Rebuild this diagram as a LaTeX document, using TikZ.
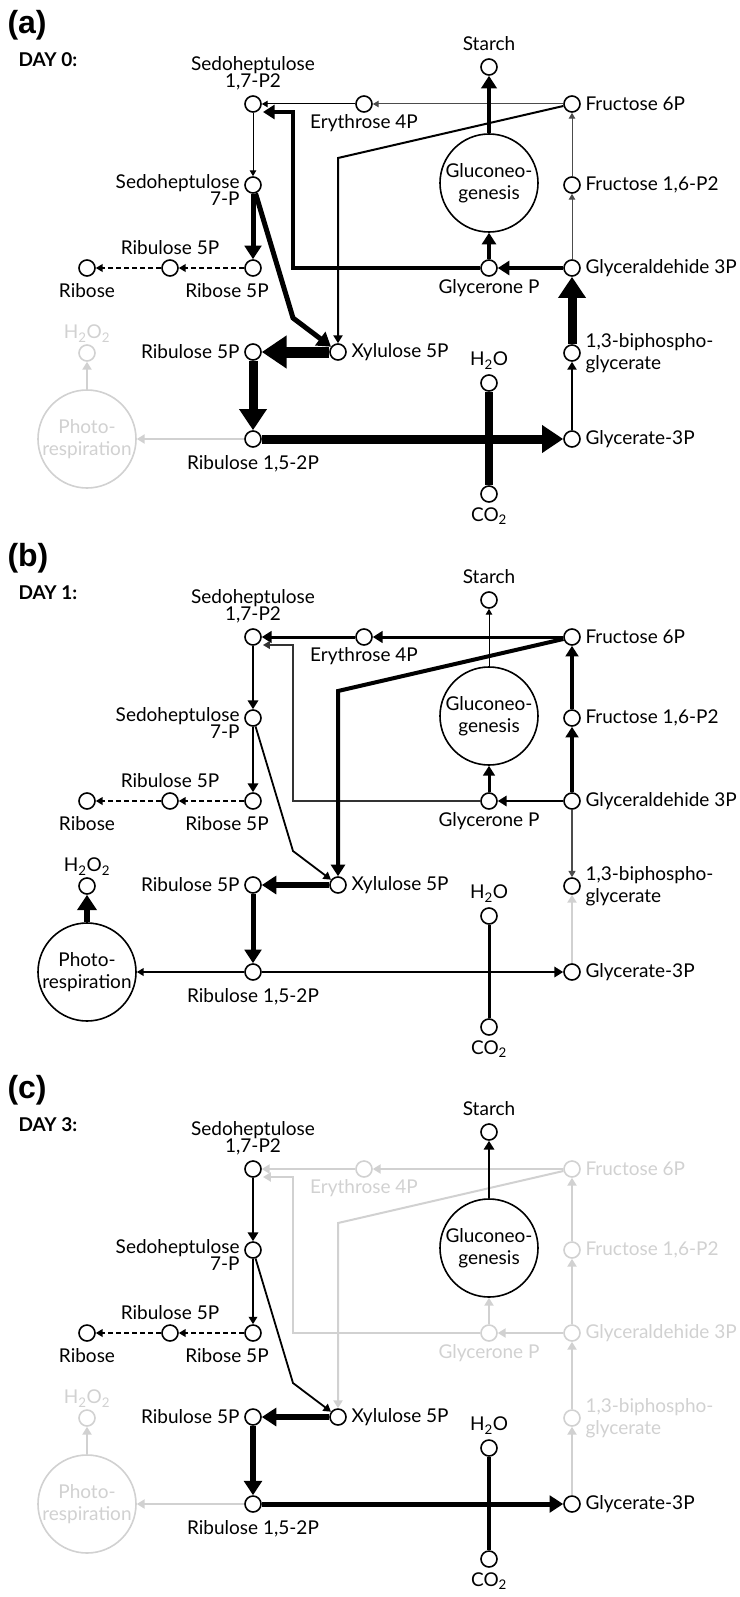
\documentclass[tikz,border=0pt]{standalone}
\usepackage{fontspec}
\setmainfont{Lato}
\newfontfamily\tagfont{Liberation Sans}
\usetikzlibrary{arrows.meta}

% one panel of the pathway: #1 panel letter, #2 day
\newcommand{\pathway}[2]{%
  % panel tags
  \node[tagtext] (tag) at (4,25) {(#1)};
  \node[daytext] (day) at (15,60) {DAY #2:};
  % metabolites
  \node[met, label={[lbl]above:{Sedoheptulose\\[-5pt]1,7-P2}}] (sbp) at (253,104) {};
  \node[met, label={[lbl, align=right, yshift=-5pt]left:{Sedoheptulose\\[-5pt]7-P}}] (s7p) at (253,185) {};
  \node[met, label={[lbl, xshift=-26pt, label distance=5pt]below:Ribose 5P}] (r5p) at (253,268) {};
  \node[met, label={[lbl]above:Ribulose 5P}] (ru5pd) at (170,268) {};
  \node[met, label={[lbl, label distance=5pt]below:Ribose}] (rib) at (87,268) {};
  \node[cal, met, label={[cal, lbl, label distance=0pt]below:Erythrose 4P}] (e4p) at (364,104) {};
  \node[cal, met, label={[cal, lbl]right:Fructose 6P}] (f6p) at (572,104) {};
  \node[cal, met, label={[cal, lbl]right:{Fructose 1,6-P2}}] (fbp) at (572,185) {};
  \node[cal, met, label={[cal, lbl]right:Glyceraldehide 3P}] (gap) at (572,268) {};
  \node[cal, met, label={[cal, lbl, label distance=1pt]below:Glycerone P}] (dhap) at (489,268) {};
  \node[cal, met, label={[cal, lbl, align=left]right:{1,3-biphospho-\\glycerate}}] (bpg) at (572,353) {};
  \node[met, label={[lbl]right:Glycerate-3P}] (pga) at (572,439) {};
  \node[met, label={[lbl]right:Xylulose 5P}] (x5p) at (338,352) {};
  \node[met, label={[lbl]left:Ribulose 5P}] (ru5p) at (253,352) {};
  \node[met, label={[lbl, label distance=6pt]below:{Ribulose 1,5-2P}}] (rubp) at (253,439) {};
  \node[met, label={[lbl]above:H\textsubscript{2}O}] (h2o) at (489,383) {};
  \node[met, label={[lbl]below:CO\textsubscript{2}}] (co2) at (489,494) {};
  \node[met, label={[lbl, label distance=6pt]above:Starch}] (starch) at (489,67) {};
  \node[pr, met, label={[pr, lbl, label distance=0pt]above:H\textsubscript{2}O\textsubscript{2}}] (hhoo) at (87,353) {};
  % processes
  \node[proc] (gluco) at (489,183) {Gluconeo-\\genesis};
  \node[pr, proc] (photo) at (87,439) {Photo-\\respiration};
  % bends of the routed arrows
  \coordinate (loopB) at (293,268);
  \coordinate (loopT) at (293,112);
  \coordinate (sbpIn) at (263,112);
  \coordinate (bendF) at (338,158);
  \coordinate (bendS) at (293,318);
  % reactions
  \draw[eF6pE4p] (f6p) -- (e4p);
  \draw[eE4pSbp] (e4p) -- (sbp);
  \draw[eDhapSbp] (dhap) -- (loopB) -- (loopT) -- (sbpIn);
  \draw[eSbpS7p] (sbp) -- (s7p);
  \draw[eS7pR5p] (s7p) -- (r5p);
  \draw[eS7pX5p] (s7p) -- (bendS) -- (x5p);
  \draw[eF6pX5p] (f6p) -- (bendF) -- (x5p);
  \draw[eX5pRu5p] (x5p) -- (ru5p);
  \draw[eRu5pRubp] (ru5p) -- (rubp);
  \draw[eRubpPhoto] (rubp) -- (photo);
  \draw[ePhotoHhoo] (photo) -- (hhoo);
  \draw[eRubpPga] (rubp) -- (pga);
  \draw[eWater] (h2o) -- (co2);
  \draw[ePgaBpg] (pga) -- (bpg);
  \draw[eBpgGap] (bpg) -- (gap);
  \draw[eGapDhap] (gap) -- (dhap);
  \draw[eDhapGluco] (dhap) -- (gluco);
  \draw[eGapFbp] (gap) -- (fbp);
  \draw[eFbpF6p] (fbp) -- (f6p);
  \draw[dashflow] (r5p) -- (ru5pd);
  \draw[dashflow] (ru5pd) -- (rib);
  \draw[eGlucoStarch] (gluco) -- (starch);
}

\begin{document}
\begin{tikzpicture}[x=1pt, y=-1pt,
    met/.style={circle, draw, fill=white, line width=1.6pt, minimum size=16pt, inner sep=0pt},
    proc/.style={circle, draw, fill=white, line width=1.6pt, minimum size=98pt, inner sep=0pt,
      align=center, font=\fontsize{19}{22}\selectfont},
    lbl/.style={font=\fontsize{19}{22}\selectfont, align=center, inner sep=1.5pt},
    tagtext/.style={anchor=west, font=\tagfont\bfseries\fontsize{32}{32}\selectfont},
    daytext/.style={anchor=west, font=\bfseries\fontsize{19}{19}\selectfont},
    label distance=3pt,
    >={Triangle[length=4pt 1.9, width=4pt 2.5]},
    flow/.style={line width=#1pt, ->},
    bar/.style={line width=#1pt},
    dashflow/.style={line width=1.5pt, dash pattern=on 5pt off 3pt, ->},
    pale/.style={color=black!18},
    cal/.style={}, pr/.style={}]
  \useasboundingbox (0,0) rectangle (739,1597);
  % (a) day 0
  \begin{scope}[pr/.style={pale},
      eF6pE4p/.style={flow=1, black!70}, eE4pSbp/.style={flow=1},
      eDhapSbp/.style={flow=4}, eSbpS7p/.style={flow=1},
      eS7pR5p/.style={flow=5}, eS7pX5p/.style={flow=5},
      eF6pX5p/.style={flow=2}, eX5pRu5p/.style={flow=11},
      eRu5pRubp/.style={flow=9}, eRubpPhoto/.style={flow=2, pale},
      ePhotoHhoo/.style={flow=2, pale}, eRubpPga/.style={flow=9},
      eWater/.style={bar=8}, ePgaBpg/.style={flow=2},
      eBpgGap/.style={flow=9}, eGapDhap/.style={flow=4},
      eDhapGluco/.style={flow=4}, eGapFbp/.style={flow=1, black!70},
      eFbpF6p/.style={flow=1, black!70}, eGlucoStarch/.style={flow=4.5}]
    \pathway{a}{0}
  \end{scope}
  % (b) day 1
  \begin{scope}[shift={(0,533)},
      eF6pE4p/.style={flow=3}, eE4pSbp/.style={flow=3},
      eDhapSbp/.style={flow=1.5, black!80}, eSbpS7p/.style={flow=2.5},
      eS7pR5p/.style={flow=2.5}, eS7pX5p/.style={flow=1.8},
      eF6pX5p/.style={flow=4}, eX5pRu5p/.style={flow=5.5},
      eRu5pRubp/.style={flow=5}, eRubpPhoto/.style={flow=1.5},
      ePhotoHhoo/.style={flow=6}, eRubpPga/.style={flow=2.5},
      eWater/.style={bar=3}, ePgaBpg/.style={flow=2, pale},
      eBpgGap/.style={flow=1.2, black!70, <-}, eGapDhap/.style={flow=2.5},
      eDhapGluco/.style={flow=3}, eGapFbp/.style={flow=3.5},
      eFbpF6p/.style={flow=3.5}, eGlucoStarch/.style={flow=1}]
    \pathway{b}{1}
  \end{scope}
  % (c) day 3
  \begin{scope}[shift={(0,1065)}, cal/.style={pale}, pr/.style={pale},
      eF6pE4p/.style={flow=2, pale}, eE4pSbp/.style={flow=2, pale},
      eDhapSbp/.style={flow=2, pale}, eSbpS7p/.style={flow=2.5},
      eS7pR5p/.style={flow=1.8}, eS7pX5p/.style={flow=1.8},
      eF6pX5p/.style={flow=2, pale}, eX5pRu5p/.style={flow=5.5},
      eRu5pRubp/.style={flow=5.5}, eRubpPhoto/.style={flow=2, pale},
      ePhotoHhoo/.style={flow=2, pale}, eRubpPga/.style={flow=5},
      eWater/.style={bar=4}, ePgaBpg/.style={flow=2, pale},
      eBpgGap/.style={flow=2, pale}, eGapDhap/.style={flow=2, pale},
      eDhapGluco/.style={flow=2, pale}, eGapFbp/.style={flow=2, pale},
      eFbpF6p/.style={flow=2, pale}, eGlucoStarch/.style={flow=2.5}]
    \pathway{c}{3}
  \end{scope}
\end{tikzpicture}
\end{document}
